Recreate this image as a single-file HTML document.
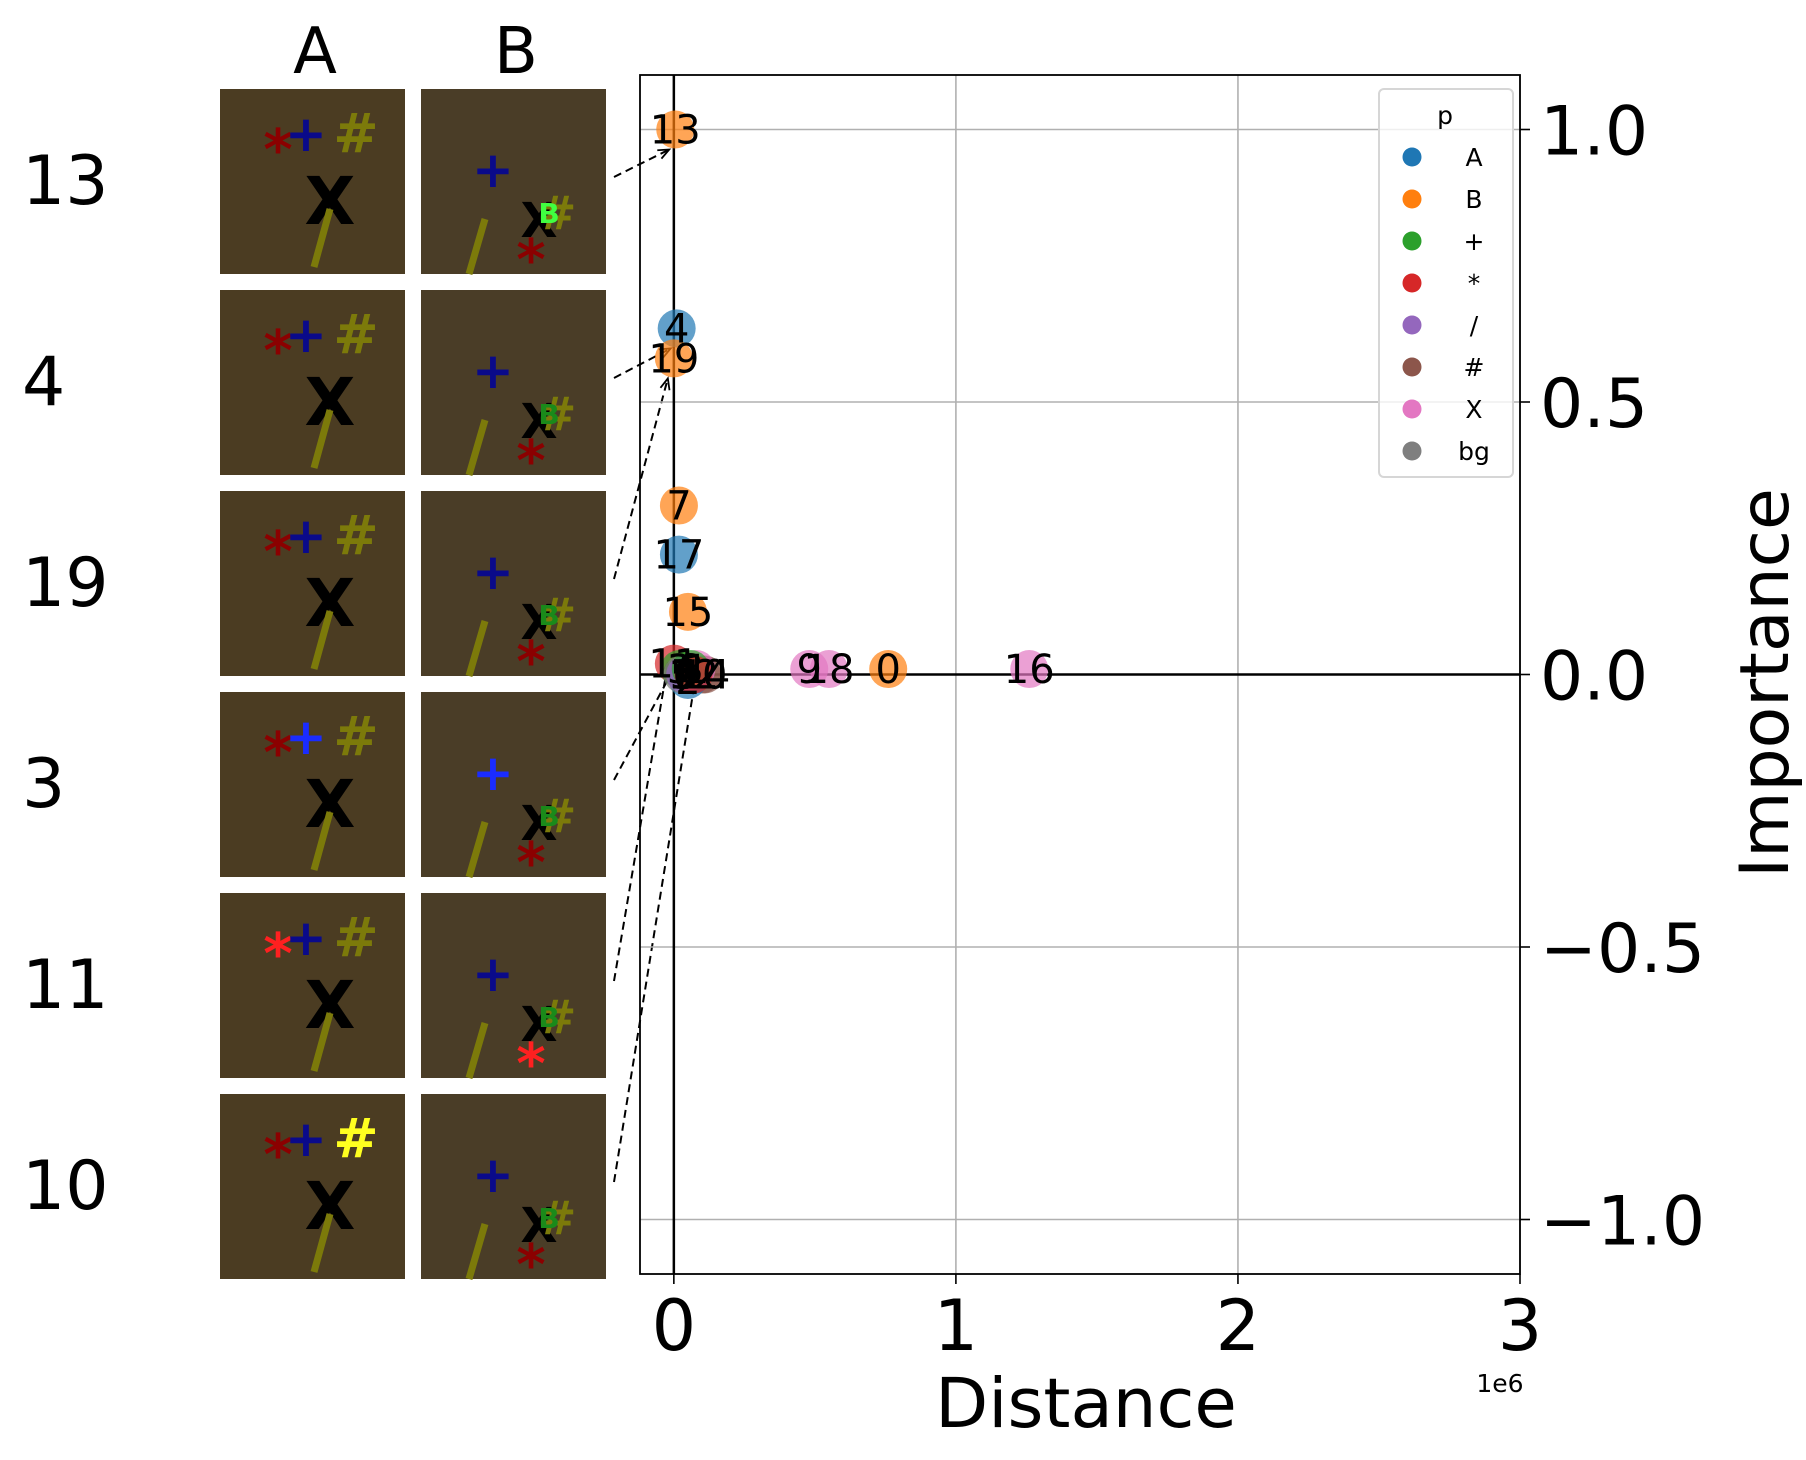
<!DOCTYPE html>
<html><head><meta charset="utf-8"><style>
html,body{margin:0;padding:0;background:#fff;}
svg{display:block;font-family:"DejaVu Sans","Liberation Sans",sans-serif;}
</style></head><body>
<svg id="chart" width="1806" height="1460" viewBox="0 0 1806 1460">
<g id="tiles"></g>
<g id="plot"></g>
</svg>
<script>
const ids = [13,4,19,7,17,15,9,18,0,16,11,10,3,14,1,2,5,6,8,12];
const distances = [0.005,0.01,0.0,0.018,0.018,0.05,0.48,0.55,0.76,1.26,0.0,0.1,0.02,0.11,0.08,0.05,0.03,0.04,0.06,0.07];
const importances = [1.0,0.635,0.58,0.31,0.22,0.115,0.01,0.01,0.01,0.01,0.02,0.0,0.01,0.0,0.01,-0.01,0.0,0.0,0.01,0.0];
const cats = ['B','A','B','B','A','B','X','X','B','X','*','#','+','#','X','A','bg','/','+','*'];
const legendLabels = ['A','B','+','*','/','#','X','bg'];
const legendColors = ['#1f77b4','#ff7f0e','#2ca02c','#d62728','#9467bd','#8c564b','#e377c2','#7f7f7f'];
const rowIds = [13,4,19,3,11,10];
const xTicks = [0,1,2,3];
const yTicks = [1.0,0.5,0.0,-0.5,-1.0];
const yTickLabels = ['1.0','0.5','0.0','\u22120.5','\u22121.0'];

const NS='http://www.w3.org/2000/svg';
function mk(tag,attrs,parent,text){const e=document.createElementNS(NS,tag);for(const k in attrs)e.setAttribute(k,attrs[k]);if(text!==undefined)e.textContent=text;parent.appendChild(e);return e;}
const L=640,R=1520,T=75,B=1274;
const xMin=-0.12,xMax=3.0,yMin=-1.1,yMax=1.1;
const sx=v=>L+(v-xMin)/(xMax-xMin)*(R-L);
const sy=v=>B-(v-yMin)/(yMax-yMin)*(B-T);
const plot=document.getElementById('plot');
const tiles=document.getElementById('tiles');

xTicks.forEach(t=>{
  if(t!==0){const g=mk('line',{x1:sx(t),x2:sx(t),y1:T,y2:B,stroke:'#b0b0b0','stroke-width':1.6},plot);
  
  }
});
yTicks.forEach(t=>{
  if(t!==0){const g=mk('line',{x1:L,x2:R,y1:sy(t),y2:sy(t),stroke:'#b0b0b0','stroke-width':1.6},plot);
  
  }
});
const zx=mk('line',{x1:sx(0),x2:sx(0),y1:T,y2:B,stroke:'#000','stroke-width':2.5},plot);


const zy=mk('line',{x1:L,x2:R,y1:sy(0),y2:sy(0),stroke:'#000','stroke-width':2.5},plot);



ids.forEach((id,i)=>{
  const c=legendColors[legendLabels.indexOf(cats[i])];
  const p=mk('circle',{cx:sx(distances[i]),cy:sy(importances[i]),r:19,fill:c,'fill-opacity':0.7},plot);
  
  
});
ids.forEach((id,i)=>{
  const t=mk('text',{x:sx(distances[i]),y:sy(importances[i])+14,'font-size':40,'text-anchor':'middle',fill:'#000'},plot,String(id));
  
  
});

const sp=mk('rect',{x:L,y:T,width:R-L,height:B-T,fill:'none',stroke:'#000','stroke-width':1.8},plot);



xTicks.forEach(t=>{
  const tk=mk('line',{x1:sx(t),x2:sx(t),y1:B,y2:B+10,stroke:'#000','stroke-width':1.6},plot);
  
  
  const lb=mk('text',{x:sx(t),y:1350,'font-size':70,'text-anchor':'middle'},plot,String(t));
  
  
});
yTicks.forEach((t,i)=>{
  const tk=mk('line',{x1:R,x2:R+10,y1:sy(t),y2:sy(t),stroke:'#000','stroke-width':1.6},plot);
  
  
  const lb=mk('text',{x:R+20,y:sy(t)+25,'font-size':68},plot,yTickLabels[i]);
  
  
});
const oe=mk('text',{x:1500,y:1392,'font-size':25,'text-anchor':'middle'},plot,'1e6');


const xt=mk('text',{x:1086,y:1427,'font-size':69,'text-anchor':'middle'},plot,'Distance');


const yt=mk('text',{x:0,y:0,'font-size':68,'text-anchor':'middle',transform:'translate(1788,683) rotate(-90)'},plot,'Importance');



const lg=mk('g',{},plot);


mk('rect',{x:1379,y:89,width:134,height:388,rx:5,fill:'#fff','fill-opacity':0.8,stroke:'#d6d6d6','stroke-width':2},lg);
mk('text',{x:1445,y:124,'font-size':25,'text-anchor':'middle'},lg,'p');
legendLabels.forEach((lab,i)=>{
  const y=157+i*42;
  const d=mk('circle',{cx:1412,cy:y,r:9.5,fill:legendColors[i]},lg);
  
  
  const t=mk('text',{x:1474,y:y+9,'font-size':25,'text-anchor':'middle'},lg,lab);
  
  
});

const cA=mk('text',{x:315,y:73,'font-size':64,'text-anchor':'middle'},tiles,'A');


const cB=mk('text',{x:516,y:73,'font-size':64,'text-anchor':'middle'},tiles,'B');


function drawTile(x,y,isB,row){
  const g=mk('g',{transform:`translate(${x},${y})`},tiles);
  mk('rect',{x:0,y:0,width:185,height:185,fill:isB?'#4a3d27':'#4b3c22'},g);
  if(!isB){
    mk('text',{x:58,y:80,'font-size':56,'font-weight':'bold',fill:row===4?'#ff2020':'#8b0000','text-anchor':'middle'},g,'*');
    mk('text',{x:86,y:62,'font-size':50,'font-weight':'bold',fill:row===3?'#1a2cff':'#0a0a8a','text-anchor':'middle'},g,'+');
    mk('text',{x:136,y:63,'font-size':54,'font-weight':'bold',fill:row===5?'#ffff20':'#7c7a0a','text-anchor':'middle'},g,'#');
    mk('text',{x:110,y:135,'font-size':66,'font-weight':'bold',fill:'#000','text-anchor':'middle'},g,'X');
    mk('line',{x1:110,y1:120,x2:94,y2:178,stroke:'#7c7a0a','stroke-width':7},g);
  } else {
    mk('text',{x:72,y:98,'font-size':50,'font-weight':'bold',fill:row===3?'#1a2cff':'#0a0a8a','text-anchor':'middle'},g,'+');
    mk('text',{x:118,y:148,'font-size':48,'font-weight':'bold',fill:'#000','text-anchor':'middle'},g,'X');
    mk('text',{x:136,y:140,'font-size':46,'font-weight':'bold',fill:'#7c7a0a','text-anchor':'middle'},g,'#');
    mk('text',{x:128,y:134,'font-size':28,'font-weight':'bold',fill:row===0?'#40ff40':'#1a8a1a','text-anchor':'middle'},g,'B');
    mk('text',{x:110,y:190,'font-size':56,'font-weight':'bold',fill:row===4?'#ff2020':'#8b0000','text-anchor':'middle'},g,'*');
    mk('line',{x1:64,y1:130,x2:48,y2:185,stroke:'#7c7a0a','stroke-width':7},g);
  }
  return g;
}
rowIds.forEach((id,r)=>{
  const y=89+r*201;
  const lb=mk('text',{x:22,y:y+115,'font-size':68},tiles,String(id));
  
  
  const a=drawTile(220,y,false,r);
  
  
  const b=drawTile(421,y,true,r);
  
  
  const i=ids.indexOf(id);
  const tx=sx(distances[i])-6, ty=sy(importances[i])+ (importances[i]>0.3?20:0);
  const x0=614, y0=y+88;
  const ar=mk('line',{x1:x0,y1:y0,x2:tx,y2:ty,stroke:'#000','stroke-width':2,'stroke-dasharray':'8,5'},tiles);
  
  
  const ang=Math.atan2(ty-y0,tx-x0);
  const h=12;
  const p1=[tx-h*Math.cos(ang-0.4),ty-h*Math.sin(ang-0.4)];
  const p2=[tx-h*Math.cos(ang+0.4),ty-h*Math.sin(ang+0.4)];
  const ah=mk('polyline',{points:`${p1} ${tx},${ty} ${p2}`,fill:'none',stroke:'#000','stroke-width':1.8},tiles);
  
  
});
</script>
</body></html>
